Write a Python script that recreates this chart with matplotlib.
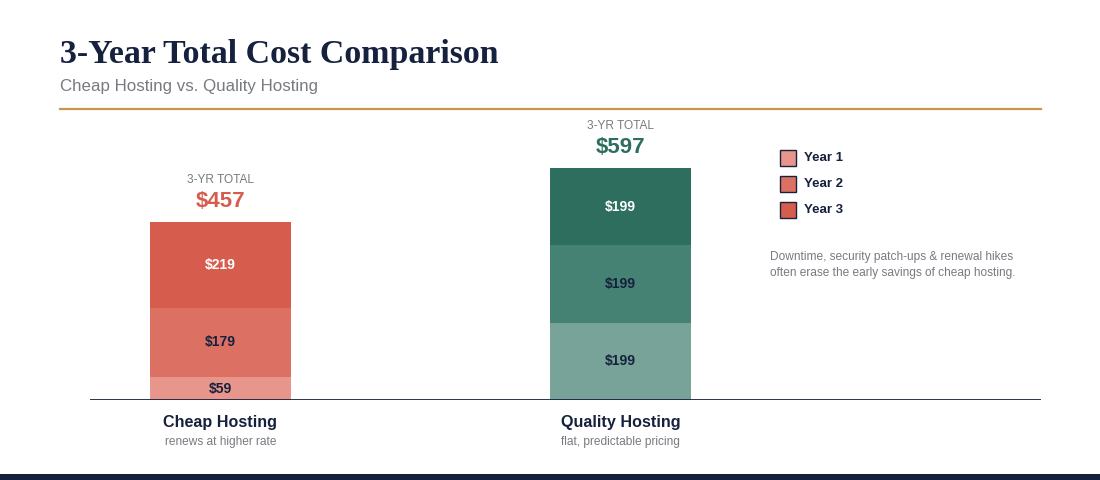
import matplotlib.pyplot as plt
from matplotlib.patches import Rectangle

plans = ['Cheap Hosting', 'Quality Hosting']
notes = ['renews at higher rate', 'flat, predictable pricing']
years = ['Year 1', 'Year 2', 'Year 3']
cheap = [59, 179, 219]
quality = [199, 199, 199]

cheap_colors = ['#e8968b', '#dc7163', '#d65d4d']
quality_colors = ['#77a398', '#468273', '#2d6e5e']
label_colors = ['#16213e', '#16213e', 'white']
navy = '#16213e'
gray = '#777a80'

W, H = 1100, 480


def fx(x):
    return x / W


def fy(y):
    return 1 - y / H


fig = plt.figure(figsize=(11, 4.8), dpi=100)
plt.rcParams['font.family'] = ['Liberation Sans', 'DejaVu Sans']

# axes placed in pixel space: baseline at y=400, x from 90 to 1041
ax = fig.add_axes([fx(90), fy(400), fx(1041) - fx(90), (400 - 110) / H])
scale = 232 / 597  # px per dollar
ax.set_ylim(0, 290 / scale)
ax.set_xlim(-130.5 / 400, (951 - 130.5) / 400)
bw = 141 / 400

for i, (vals, cols, total_col) in enumerate([(cheap, cheap_colors, '#d65d4d'),
                                             (quality, quality_colors, '#2d6e5e')]):
    bottom = 0
    for v, c, lc in zip(vals, cols, label_colors):
        ax.bar(i, v, bw, bottom=bottom, color=c, linewidth=0)
        ax.text(i, bottom + v / 2, f'${v}', ha='center', va='center',
                fontsize=10, fontweight='bold', color=lc)
        bottom += v
    ax.annotate(f'${bottom}', (i, bottom), xytext=(0, 15), textcoords='offset points',
                ha='center', va='center', fontsize=16, fontweight='bold', color=total_col)
    ax.annotate('3-YR TOTAL', (i, bottom), xytext=(0, 30.5), textcoords='offset points',
                ha='center', va='center', fontsize=8.6, color=gray)
    ax.annotate(plans[i], (i, 0), xytext=(0, -16.5), textcoords='offset points',
                ha='center', va='center', fontsize=11.6, fontweight='bold', color=navy)
    ax.annotate(notes[i], (i, 0), xytext=(0, -30), textcoords='offset points',
                ha='center', va='center', fontsize=8.6, color=gray)

ax.axhline(0, color=navy, linewidth=2)
for s in ax.spines.values():
    s.set_visible(False)
ax.set_xticks([])
ax.set_yticks([])

# title block
fig.text(fx(60), fy(54), '3-Year Total Cost Comparison', ha='left', va='center',
         fontsize=24.4, fontweight='bold', color=navy, family='Liberation Serif')
fig.text(fx(60), fy(87), 'Cheap Hosting vs. Quality Hosting', ha='left', va='center',
         fontsize=12.15, color=gray)
fig.add_artist(plt.Line2D([fx(60), fx(1041)], [fy(108.5), fy(108.5)],
                          color='#c9974b', linewidth=1.6))

# legend
for k, (yr, c) in enumerate(zip(years, cheap_colors)):
    yc = 158 + 26 * k
    fig.add_artist(Rectangle((fx(780), fy(yc + 8)), 16 / W, 16 / H, facecolor=c,
                             edgecolor=navy, linewidth=1))
    fig.text(fx(804), fy(yc), yr, ha='left', va='center', fontsize=9.5,
             fontweight='bold', color=navy)

fig.text(fx(770), fy(257), 'Downtime, security patch-ups & renewal hikes',
         ha='left', va='center', fontsize=8.55, color=gray)
fig.text(fx(770), fy(273), 'often erase the early savings of cheap hosting.',
         ha='left', va='center', fontsize=8.55, color=gray)

# bottom band
fig.add_artist(Rectangle((0, 0), 1, 6 / H, facecolor=navy, edgecolor='none'))

fig.savefig('out.png', dpi=100)
